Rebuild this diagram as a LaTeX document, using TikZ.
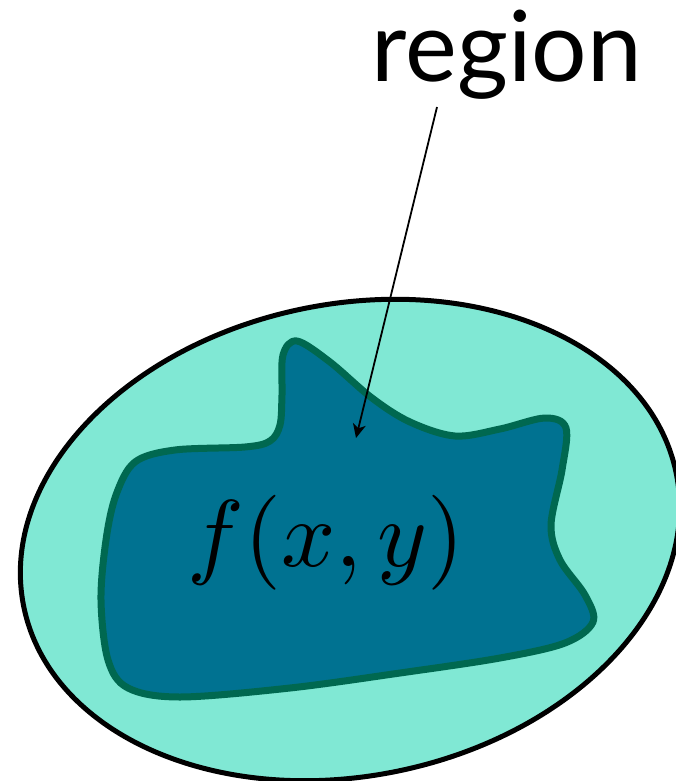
\documentclass[tikz,border=0pt]{standalone}
\usepackage{fontspec}
\usepackage{graphicx}
\newfontfamily\labelfont{Lato}
\usetikzlibrary{arrows.meta}
\definecolor{lightteal}{RGB}{128,232,212}
\definecolor{blobfill}{RGB}{0,114,145}
\definecolor{blobedge}{RGB}{0,104,80}
\tikzset{
  outerset/.style={draw=black, line width=5pt, fill=lightteal},
  blobset/.style={draw=blobedge, line width=7pt, fill=blobfill, line join=round},
  pointer/.style={draw=black, line width=1.8pt, -{Stealth[length=14pt,width=13pt,inset=4pt]}},
  lbl/.style={inner sep=0pt, font=\labelfont\fontsize{98}{100}\selectfont},
  mathlbl/.style={inner sep=0pt}
}
\begin{document}
\begin{tikzpicture}[x=1pt,y=-1pt]
\useasboundingbox (0,0) rectangle (676,781);
\path[outerset, rotate around={11.6:(350,540)}] (350,540) ellipse [x radius=333pt, y radius=236pt];
\path[blobset] plot[smooth cycle, tension=0.55] coordinates {
 (297,341) (330,362) (372,398) (410,422) (455,436) (500,429) (545,418)
 (566,428) (562,470) (551,525) (560,560) (585,595) (593,622) (565,643)
 (500,658) (400,673) (290,688) (180,697) (128,688) (108,660) (101,600)
 (106,540) (116,495) (135,462) (175,450) (245,447) (270,441) (280,425) (282,395) (283,355)
};
\node[mathlbl, anchor=base] (fxy) at (326,566) {\scalebox{9.5}{$f(x,y)$}};
\node[lbl, anchor=base] (region) at (507,82) {region};
\coordinate (arrowstart) at (437,107);
\coordinate (arrowend) at (356,438);
\draw[pointer] (arrowstart) -- (arrowend);
\end{tikzpicture}
\end{document}
